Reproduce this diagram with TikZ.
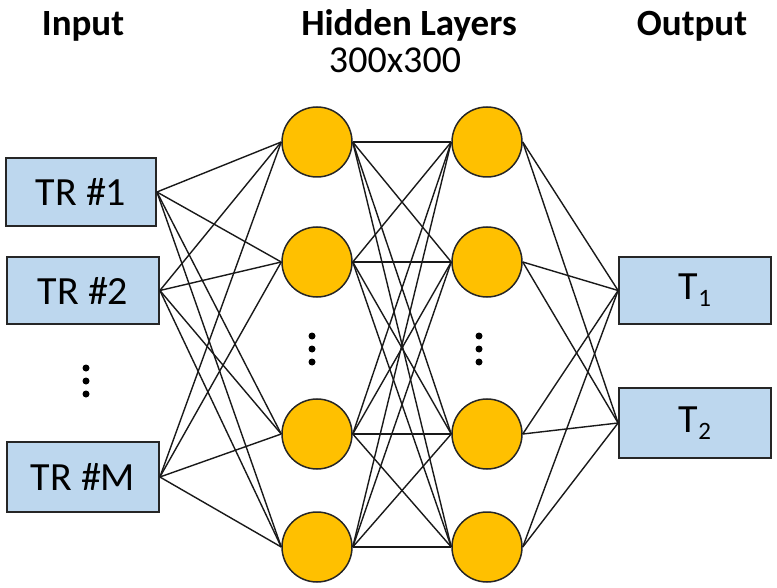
\documentclass[tikz,border=0pt]{standalone}
\usepackage{fontspec}
\setmainfont{Carlito}
\definecolor{boxblue}{RGB}{189,215,238}
\definecolor{nodeorange}{RGB}{255,192,0}
\begin{document}
\begin{tikzpicture}[x=1pt,y=-1pt,
  inbox/.style={draw=black!85,line width=1.8pt,fill=boxblue,minimum width=150pt,minimum height=68pt,inner sep=0pt,font=\fontsize{40}{40}\selectfont},
  neuron/.style={circle,draw=black!85,line width=1.5pt,fill=nodeorange,minimum size=70pt,inner sep=0pt},
  title/.style={anchor=base,font=\fontsize{37}{37}\selectfont\bfseries},
  conn/.style={line width=1.4pt,black!90},
  vdot/.style={fill=black,circle,inner sep=0pt,minimum size=7pt}]
\useasboundingbox (0,0) rectangle (777,588);
\node[title] (tin) at (83,36) {Input};
\node[title] (thid) at (409,36) {Hidden Layers};
\node[anchor=base,font=\fontsize{38}{38}\selectfont] (tsize) at (395,73) {300x300};
\node[title] (tout) at (692,36) {Output};

\node[inbox] (i1) at (81,192) {TR \#1};
\node[inbox,minimum width=152pt,minimum height=67pt] (i2) at (83,290.5) {TR \#2};
\node[inbox,minimum width=152pt,minimum height=70pt] (i3) at (83,477) {TR \#M};

\node[neuron] (a1) at (317,142) {};
\node[neuron] (a2) at (317,262) {};
\node[neuron] (a3) at (317,434) {};
\node[neuron] (a4) at (317,547) {};
\node[neuron] (b1) at (487,142) {};
\node[neuron] (b2) at (487,262) {};
\node[neuron] (b3) at (487,434) {};
\node[neuron] (b4) at (487,547) {};

\node[inbox,minimum width=152pt,minimum height=67pt] (o1) at (695,290.5) {T\raisebox{-7pt}{\fontsize{25}{25}\selectfont 1}};
\node[inbox,minimum width=152pt,minimum height=70pt] (o2) at (695,423) {T\raisebox{-7pt}{\fontsize{25}{25}\selectfont 2}};

\foreach \y [count=\k] in {368,381,394} {
  \node[vdot] (di\k) at (86,\y) {};
}
\foreach \y [count=\k] in {336,349,362} {
  \node[vdot] (da\k) at (312,\y) {};
  \node[vdot] (db\k) at (479,\y) {};
}

\foreach \i in {i1,i2,i3} {
  \foreach \a in {a1,a2,a3,a4} {
    \draw[conn] (\i.east) -- (\a.west);
  }
}
\foreach \a in {a1,a2,a3,a4} {
  \foreach \b in {b1,b2,b3,b4} {
    \draw[conn] (\a.east) -- (\b.west);
  }
}
\foreach \b in {b1,b2,b3,b4} {
  \foreach \o in {o1,o2} {
    \draw[conn] (\b.east) -- (\o.west);
  }
}
\end{tikzpicture}
\end{document}
